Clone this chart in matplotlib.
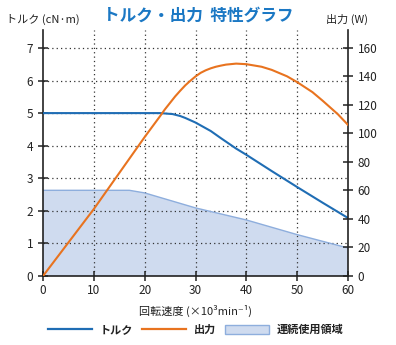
import matplotlib.pyplot as plt
from matplotlib.lines import Line2D
from matplotlib.patches import Patch

plt.rcParams['font.family'] = ['Noto Sans CJK JP', 'DejaVu Sans']

# speed in 10^3 min^-1
torque_speed = [0, 10, 20, 23, 25.5, 27, 28, 30, 33, 35, 38, 40, 45, 50, 55, 60]
torque = [5.0, 5.0, 5.0, 5.0, 4.97, 4.91, 4.85, 4.71, 4.45, 4.23, 3.91, 3.72, 3.22, 2.73, 2.25, 1.78]

power_speed = [0, 10, 20, 23, 24, 25, 26, 27, 28, 29, 30, 31, 32, 33, 34, 35, 36, 38, 40,
               43, 45, 48, 50, 53, 55, 58, 60]
power = [0, 47, 97.5, 112, 117, 121.5, 126, 130, 133.8, 137, 140, 142.5, 144.3, 145.7,
         146.8, 147.6, 148.3, 149, 148.6, 146.8, 144.6, 140.1, 136, 129, 123, 113.5, 106]

cont_speed = [0, 17, 20, 30, 40, 50, 60]
cont_torque = [2.63, 2.63, 2.55, 2.09, 1.72, 1.27, 0.86]

blue = '#1f6db4'
orange = '#e8731f'
fill_face = '#cfdbef'
fill_edge = '#8eaedd'

fig = plt.figure(figsize=(3.96, 3.45), dpi=100)
ax = fig.add_axes([0.1086, 0.2, 0.7702, 0.713])
ax2 = ax.twinx()

ymax = 7.55
ax.set_xlim(0, 60)
ax.set_ylim(0, ymax)
ax2.set_ylim(0, ymax * 160 / 7)

# continuous duty area
ax.fill_between(cont_speed, cont_torque, 0, facecolor=fill_face, edgecolor='none', zorder=1)
ax.plot(cont_speed, cont_torque, color=fill_edge, lw=1.0, zorder=2)

# dotted grid
for y in range(1, 8):
    ax.axhline(y, color='#333333', lw=0.9, ls=(0, (1, 2.5)), zorder=1.5)
for x in range(10, 60, 10):
    ax.axvline(x, color='#333333', lw=0.9, ls=(0, (1, 2.5)), zorder=1.5)

ax.plot(torque_speed, torque, color=blue, lw=1.5, zorder=3)
ax2.plot(power_speed, power, color=orange, lw=1.5, zorder=3)

ax.set_xticks(range(0, 61, 10))
ax.set_yticks(range(0, 8))
ax2.set_yticks(range(0, 161, 20))
for a in (ax, ax2):
    a.spines['top'].set_visible(False)
    for s in a.spines.values():
        s.set_linewidth(1.2)
        s.set_color('#222222')
    a.tick_params(direction='inout', length=7, width=1.1, labelsize=8.5, colors='#222222')
ax.spines['right'].set_visible(False)
ax2.spines['left'].set_visible(False)
ax2.spines['bottom'].set_visible(False)
ax.tick_params(axis='x', pad=2)
ax.set_xlabel('回転速度 (×10³min⁻¹)', fontsize=8, labelpad=6, color='#222222')

fig.text(0.015, 0.945, 'トルク (cN·m)', fontsize=8, color='#222222', va='center')
fig.text(0.93, 0.945, '出力 (W)', fontsize=8, color='#222222', va='center', ha='right')
fig.text(0.5, 0.955, 'トルク・出力  特性グラフ', fontsize=12, fontweight='bold',
         color='#1b78c4', ha='center', va='center')

handles = [Line2D([], [], color=blue, lw=1.6),
           Line2D([], [], color=orange, lw=1.6),
           Patch(facecolor=fill_face, edgecolor=fill_edge)]
leg = fig.legend(handles, ['トルク', '出力', '連続使用領域'], loc='center', bbox_to_anchor=(0.494, 0.045),
                 ncol=3, frameon=False, fontsize=8, handlelength=4.0, handleheight=0.85,
                 columnspacing=0.8, handletextpad=0.65)
for t in leg.get_texts():
    t.set_fontweight('bold')
    t.set_color('#222222')

fig.savefig('out.png', dpi=100)
